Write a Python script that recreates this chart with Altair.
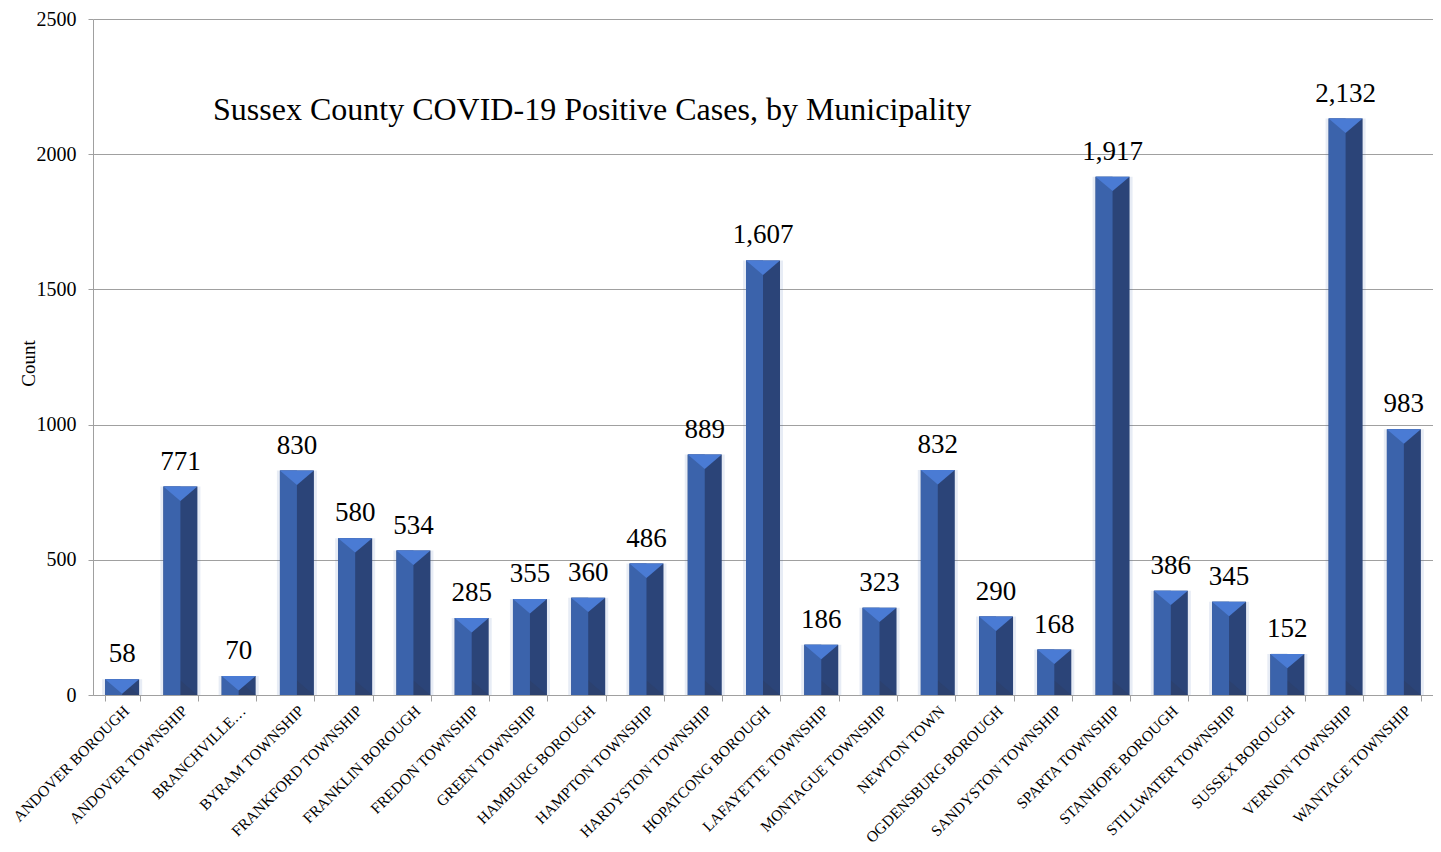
import altair as alt
import pandas as pd

municipalities = [
    "ANDOVER BOROUGH", "ANDOVER TOWNSHIP", "BRANCHVILLE…", "BYRAM TOWNSHIP",
    "FRANKFORD TOWNSHIP", "FRANKLIN BOROUGH", "FREDON TOWNSHIP", "GREEN TOWNSHIP",
    "HAMBURG BOROUGH", "HAMPTON TOWNSHIP", "HARDYSTON TOWNSHIP", "HOPATCONG BOROUGH",
    "LAFAYETTE TOWNSHIP", "MONTAGUE TOWNSHIP", "NEWTON TOWN", "OGDENSBURG BOROUGH",
    "SANDYSTON TOWNSHIP", "SPARTA TOWNSHIP", "STANHOPE BOROUGH", "STILLWATER TOWNSHIP",
    "SUSSEX BOROUGH", "VERNON TOWNSHIP", "WANTAGE TOWNSHIP",
]
cases = [58, 771, 70, 830, 580, 534, 285, 355, 360, 486, 889, 1607, 186, 323,
         832, 290, 168, 1917, 386, 345, 152, 2132, 983]
y_ticks = [0, 500, 1000, 1500, 2000, 2500]
title_text = "Sussex County COVID-19 Positive Cases, by Municipality"

df = pd.DataFrame({"Municipality": municipalities, "Count": cases, "Zero": [0] * len(cases)})

FONT = "Liberation Serif"
BAR_W = 34

x_enc = alt.X(
    "Municipality:N", sort=municipalities, title=None,
    scale=alt.Scale(paddingInner=0.4, paddingOuter=0.2),
    axis=alt.Axis(labelAngle=-45, labelFont=FONT, labelFontSize=15.5, labelColor="black",
                  labelPadding=2, labelOffset=-1, tickBand="extent", tickSize=6,
                  tickColor="#A0A0A0", domainColor="#A0A0A0", labelLimit=300,
                  labelOverlap=False),
)
y_enc = alt.Y(
    "Count:Q", title="Count",
    scale=alt.Scale(domain=[0, 2500]),
    axis=alt.Axis(values=y_ticks, format="d", labelFont=FONT, labelFontSize=20,
                  labelColor="black", labelPadding=12, tickSize=5, tickColor="#A0A0A0",
                  domainColor="#A0A0A0", gridColor="#A0A0A0", titleFont=FONT,
                  titleFontSize=19, titleFontWeight="normal", titleColor="black",
                  titleX=-65, titleY=344, titleAngle=-90, titleBaseline="middle",
                  titleAlign="center"),
)

base = alt.Chart(df)

glow = base.mark_bar(size=BAR_W + 6, color="#3B63AB", opacity=0.12).encode(x=x_enc, y=y_enc)
right_face = base.mark_bar(size=BAR_W, color="#2B4478").encode(x=x_enc, y=y_enc)
left_face = base.mark_bar(size=BAR_W / 2, xOffset=-BAR_W / 4, color="#3B63AB").encode(x=x_enc, y=y_enc)
bottom_bevel = base.mark_point(
    shape="M-1,0L1,0L0,-0.85Z", size=BAR_W * BAR_W, filled=True, color="#2C416F",
    opacity=1, strokeWidth=0,
).encode(x=x_enc, y=alt.Y("Zero:Q", scale=alt.Scale(domain=[0, 2500])))
top_bevel = base.mark_point(
    shape="M-1,0L1,0L0,0.85Z", size=BAR_W * BAR_W, filled=True, color="#4A7BD4",
    opacity=1, strokeWidth=0,
).encode(x=x_enc, y=y_enc)
labels = base.mark_text(font=FONT, fontSize=27, baseline="bottom", dy=-11, color="black").encode(
    x=x_enc, y=y_enc, text=alt.Text("Count:Q", format=",")
)
title = alt.Chart(pd.DataFrame({"t": [title_text]})).mark_text(
    font=FONT, fontSize=32, color="black", align="left", baseline="middle"
).encode(x=alt.value(120), y=alt.value(91), text="t:N")

chart = alt.layer(glow, right_face, bottom_bevel, left_face, top_bevel, labels, title).properties(
    width=1340, height=676,
    autosize=alt.AutoSizeParams(type="none"),
    padding={"left": 85, "top": 11, "right": 0, "bottom": 155},
).configure_view(stroke=None).configure_axis(domainWidth=1, gridWidth=1)

chart.save("out.html", embed_options={"renderer": "svg", "actions": False})
